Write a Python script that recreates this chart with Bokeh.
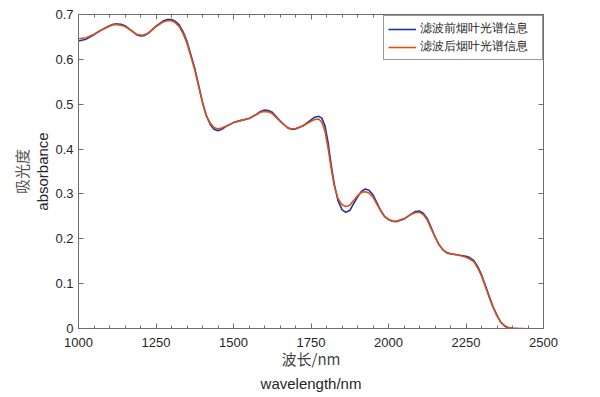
from bokeh.plotting import figure
from bokeh.models import LinearAxis, Title, Legend, LegendItem, FixedTicker, Range1d
from bokeh.embed import file_html
from bokeh.resources import INLINE

# wavelength (nm) and absorbance
wl_before = [1000, 1025, 1050, 1075, 1100, 1112, 1125, 1137, 1150, 1175, 1187, 1200, 1212, 1225,
             1250, 1275, 1287, 1300, 1312, 1325, 1337, 1350, 1375, 1400, 1412, 1425, 1437, 1450,
             1462, 1475, 1500, 1525, 1550, 1575, 1587, 1600, 1612, 1625, 1650, 1675, 1687, 1700,
             1725, 1750, 1762, 1775, 1785, 1795, 1805, 1815, 1825, 1837, 1850, 1862, 1875, 1887,
             1900, 1912, 1925, 1937, 1950, 1962, 1975, 1987, 2000, 2012, 2025, 2050, 2075, 2087,
             2100, 2112, 2125, 2137, 2150, 2162, 2175, 2187, 2200, 2225, 2250, 2262, 2275, 2287,
             2300, 2312, 2325, 2337, 2350, 2362, 2375, 2387, 2400]
abs_before = [0.641, 0.645, 0.655, 0.666, 0.675, 0.678, 0.679, 0.678, 0.675, 0.662, 0.655, 0.652, 0.653, 0.658,
              0.674, 0.686, 0.689, 0.689, 0.685, 0.677, 0.662, 0.640, 0.580, 0.505, 0.475, 0.455, 0.444, 0.441,
              0.444, 0.450, 0.459, 0.464, 0.468, 0.478, 0.484, 0.487, 0.486, 0.482, 0.463, 0.447, 0.444, 0.445,
              0.452, 0.465, 0.471, 0.473, 0.469, 0.452, 0.415, 0.365, 0.322, 0.285, 0.265, 0.259, 0.263, 0.278,
              0.293, 0.305, 0.311, 0.308, 0.298, 0.281, 0.263, 0.250, 0.243, 0.239, 0.238, 0.244, 0.256, 0.261,
              0.262, 0.257, 0.245, 0.226, 0.205, 0.188, 0.176, 0.169, 0.166, 0.164, 0.161, 0.158, 0.152, 0.139,
              0.120, 0.097, 0.072, 0.049, 0.030, 0.014, 0.005, 0.001, 0.000]

wl_after = [1000, 1025, 1050, 1075, 1100, 1112, 1125, 1137, 1150, 1175, 1187, 1200, 1212, 1225,
            1250, 1275, 1287, 1300, 1312, 1325, 1337, 1350, 1375, 1400, 1412, 1425, 1437, 1450,
            1462, 1475, 1500, 1525, 1550, 1575, 1587, 1600, 1612, 1625, 1650, 1675, 1687, 1700,
            1725, 1750, 1762, 1775, 1785, 1795, 1805, 1815, 1825, 1837, 1850, 1862, 1875, 1887,
            1900, 1912, 1925, 1937, 1950, 1962, 1975, 1987, 2000, 2012, 2025, 2050, 2075, 2087,
            2100, 2112, 2125, 2137, 2150, 2162, 2175, 2187, 2200, 2225, 2250, 2262, 2275, 2287,
            2300, 2312, 2325, 2337, 2350, 2362, 2375, 2387, 2400, 2425, 2440]
abs_after = [0.646, 0.648, 0.656, 0.666, 0.674, 0.677, 0.677, 0.676, 0.673, 0.662, 0.656, 0.654, 0.655, 0.659,
             0.673, 0.684, 0.686, 0.686, 0.682, 0.673, 0.658, 0.636, 0.576, 0.503, 0.475, 0.458, 0.448, 0.445,
             0.447, 0.451, 0.459, 0.464, 0.468, 0.477, 0.482, 0.484, 0.483, 0.479, 0.462, 0.448, 0.445, 0.446,
             0.452, 0.462, 0.466, 0.467, 0.460, 0.440, 0.402, 0.357, 0.318, 0.290, 0.276, 0.272, 0.275, 0.285,
             0.296, 0.303, 0.305, 0.302, 0.293, 0.278, 0.262, 0.250, 0.243, 0.240, 0.239, 0.245, 0.255, 0.258,
             0.259, 0.254, 0.242, 0.223, 0.204, 0.188, 0.176, 0.170, 0.167, 0.164, 0.159, 0.155, 0.149, 0.136,
             0.117, 0.094, 0.069, 0.047, 0.028, 0.014, 0.006, 0.002, 0.001, 0.000, 0.000]

series_names = ["滤波前烟叶光谱信息", "滤波后烟叶光谱信息"]
x_ticks = [1000, 1250, 1500, 1750, 2000, 2250, 2500]
y_ticks = [0, 0.1, 0.2, 0.3, 0.4, 0.5, 0.6, 0.7]

AX = "#6e6e6e"
TXT = "#262626"
FONT = "Liberation Sans"
CJK = "Noto Sans CJK SC"

p = figure(width=600, height=397, output_backend="svg", toolbar_location=None,
           x_range=Range1d(1000, 2500), y_range=Range1d(0, 0.7),
           min_border_left=78, min_border_right=57, min_border_top=14, min_border_bottom=69)
p.outline_line_color = None
p.grid.visible = False
p.background_fill_color = "white"
p.border_fill_color = "white"

r1 = p.line(wl_before, abs_before, line_color="#2233aa", line_width=1.6)
r2 = p.line(wl_after, abs_after, line_color="#d95319", line_width=1.6)

def style(ax, ticks, minor, labels=True):
    ax.ticker = FixedTicker(ticks=ticks, minor_ticks=minor)
    ax.axis_line_color = AX
    ax.axis_line_width = 1
    ax.major_tick_line_color = AX
    ax.minor_tick_line_color = AX
    ax.major_tick_in = 5
    ax.major_tick_out = 0
    ax.minor_tick_in = 3
    ax.minor_tick_out = 0
    ax.major_label_text_font = FONT
    ax.major_label_text_font_size = "13px"
    ax.major_label_text_color = TXT
    if not labels:
        ax.major_label_text_alpha = 0
        ax.major_label_text_font_size = "1px"
        ax.major_label_standoff = 0

x_minor = list(range(1000, 2501, 50))
style(p.xaxis[0], x_ticks, x_minor)
style(p.yaxis[0], y_ticks, [])
p.xaxis[0].major_label_standoff = 9
p.yaxis[0].major_label_standoff = 5

p.xaxis[0].axis_label = "波长/nm"
p.xaxis[0].axis_label_text_font = CJK
p.xaxis[0].axis_label_text_font_size = "15px"
p.xaxis[0].axis_label_text_font_style = "normal"
p.xaxis[0].axis_label_text_color = "#444444"
p.xaxis[0].axis_label_standoff = -2

p.yaxis[0].axis_label = "absorbance"
p.yaxis[0].axis_label_text_font = FONT
p.yaxis[0].axis_label_text_font_size = "15px"
p.yaxis[0].axis_label_text_font_style = "normal"
p.yaxis[0].axis_label_text_color = TXT
p.yaxis[0].axis_label_standoff = 1

top = LinearAxis()
style(top, x_ticks, x_minor, labels=False)
p.add_layout(top, "above")
right = LinearAxis()
style(right, y_ticks, [], labels=False)
p.add_layout(right, "right")

t_left = Title(text="吸光度", align="center", text_font=CJK, text_font_size="15px",
               text_font_style="normal", text_color="#555555", standoff=0)
p.add_layout(t_left, "left")
t_below = Title(text="wavelength/nm", align="center", text_font=FONT, text_font_size="15px",
                text_font_style="normal", text_color=TXT, standoff=2)
p.add_layout(t_below, "below")

legend = Legend(items=[LegendItem(label=series_names[0], renderers=[r1]),
                       LegendItem(label=series_names[1], renderers=[r2])],
                location=(305, 268))
legend.label_text_font = FONT
legend.label_text_font_size = "12px"
legend.label_text_color = TXT
legend.label_width = 118
legend.glyph_width = 28
legend.glyph_height = 12
legend.label_height = 12
legend.label_standoff = 4
legend.padding = 4
legend.spacing = 1
legend.margin = 0
legend.border_line_color = "#333333"
legend.border_line_width = 1
legend.background_fill_alpha = 1
p.add_layout(legend, "center")

open("out.html", "w").write(file_html(p, INLINE))
